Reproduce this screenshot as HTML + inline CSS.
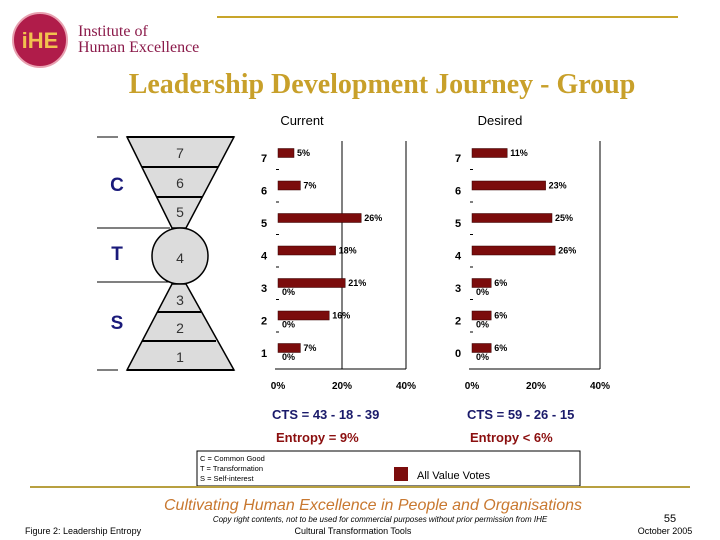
<!DOCTYPE html>
<html><head><meta charset="utf-8"><style>
body{margin:0;background:#fff;}
svg{display:block;font-family:"Liberation Sans",Arial,sans-serif;}
</style></head><body>
<svg width="720" height="540" viewBox="0 0 720 540">
<g>
<circle cx="40" cy="40" r="27" fill="#b01c4a" stroke="#e8a0b0" stroke-width="2"/>
<text x="40" y="48" text-anchor="middle" font-size="22" font-weight="bold" fill="#f2c14e">iHE</text>
<text x="78" y="36" font-family="Liberation Serif,serif" font-size="16" fill="#8b1a4a">Institute of</text>
<text x="78" y="52" font-family="Liberation Serif,serif" font-size="16" fill="#8b1a4a">Human Excellence</text>
</g>
<line x1="217" y1="17" x2="678" y2="17" stroke="#c8a52a" stroke-width="2"/>
<text x="382" y="93" text-anchor="middle" font-family="Liberation Serif,serif" font-size="28" font-weight="bold" fill="#c8a02a">Leadership Development Journey - Group</text>

<g stroke="#000">
<line x1="97" y1="137" x2="118" y2="137" stroke-width="1"/>
<line x1="97" y1="228" x2="170" y2="228" stroke-width="1"/>
<line x1="97" y1="282" x2="172" y2="282" stroke-width="1"/>
<line x1="97" y1="370" x2="118" y2="370" stroke-width="1"/>
<polygon points="127,137 234,137 186,228 172,228" fill="#dcdcdc" stroke-width="1.5"/>
<line x1="142" y1="167" x2="218" y2="167" stroke-width="2"/>
<line x1="157" y1="197" x2="202" y2="197" stroke-width="2"/>
<line x1="127" y1="137" x2="234" y2="137" stroke-width="2"/>
<circle cx="180" cy="256" r="28" fill="#dcdcdc" stroke-width="1.5"/>
<polygon points="172,284 186,284 234,370 127,370" fill="#dcdcdc" stroke-width="1.5"/>
<line x1="157" y1="312" x2="201" y2="312" stroke-width="2"/>
<line x1="142" y1="341" x2="216" y2="341" stroke-width="2"/>
<line x1="127" y1="370" x2="234" y2="370" stroke-width="2"/>
<g stroke="none" fill="#333" font-size="14" text-anchor="middle">
<text x="180" y="158">7</text><text x="180" y="188">6</text><text x="180" y="217">5</text>
<text x="180" y="263">4</text><text x="180" y="305">3</text><text x="180" y="333">2</text><text x="180" y="362">1</text>
</g>
<g stroke="none" fill="#1a1a7a" font-size="19" font-weight="bold" text-anchor="middle">
<text x="117" y="191">C</text><text x="117" y="260">T</text><text x="117" y="329">S</text>
</g>
</g>

<text x="302" y="125" text-anchor="middle" font-size="13">Current</text>
<text x="500" y="125" text-anchor="middle" font-size="13">Desired</text>
<g id="charts"></g>

<text x="272" y="419" font-size="13" font-weight="bold" fill="#1a1a6a">CTS = 43 - 18 - 39</text>
<text x="467" y="419" font-size="13" font-weight="bold" fill="#1a1a6a">CTS = 59 - 26 - 15</text>
<text x="276" y="442" font-size="13" font-weight="bold" fill="#8b0f0f">Entropy = 9%</text>
<text x="470" y="442" font-size="13" font-weight="bold" fill="#8b0f0f">Entropy &lt; 6%</text>

<g>
<rect x="197" y="451" width="383" height="35" fill="#fff" stroke="#000"/>
<text x="200" y="461" font-size="7.5">C = Common Good</text>
<text x="200" y="471" font-size="7.5">T = Transformation</text>
<text x="200" y="481" font-size="7.5">S = Self-interest</text>
<rect x="394" y="467" width="14" height="14" fill="#7b0c0c"/>
<text x="417" y="479" font-size="11">All Value Votes</text>
</g>
<line x1="30" y1="487" x2="690" y2="487" stroke="#b8a040" stroke-width="2"/>
<text x="373" y="510" text-anchor="middle" font-size="16" font-style="italic" fill="#c87830">Cultivating Human Excellence in People and Organisations</text>
<text x="380" y="522" text-anchor="middle" font-size="8" font-style="italic">Copy right contents, not to be used for commercial purposes without prior permission from IHE</text>
<text x="353" y="534" text-anchor="middle" font-size="9">Cultural Transformation Tools</text>
<text x="25" y="534" font-size="9">Figure 2: Leadership Entropy</text>
<text x="670" y="522" text-anchor="middle" font-size="11">55</text>
<text x="665" y="534" text-anchor="middle" font-size="9">October 2005</text>
</svg>
<script>
const currentLevels = ["7","6","5","4","3","2","1"];
const currentValues = [5,7,26,18,21,16,7];
const desiredLevels = ["7","6","5","4","3","2","0"];
const desiredValues = [11,23,25,26,6,6,6];
const zeroRows = [4,5,6];
const xTicks = [0,20,40];
const xTickLabels = ["0%","20%","40%"];

const NS="http://www.w3.org/2000/svg";
const g=document.getElementById('charts');
function mk(tag,attrs,parent,txt){const e=document.createElementNS(NS,tag);for(const k in attrs)e.setAttribute(k,attrs[k]);if(txt!==undefined)e.textContent=txt;parent.appendChild(e);return e;}
function y(i){return 153+i*32.5;}
function drawChart(x0,levels,values,name,gridAt20){
  const sx=v=>x0+v*3.2;
  const cg=mk('g',{},g);
  
  
  mk('line',{x1:x0-3,y1:369,x2:sx(40),y2:369,stroke:'#000'},cg);
  mk('line',{x1:sx(40),y1:141,x2:sx(40),y2:369,stroke:'#000'},cg);
  if(gridAt20) mk('line',{x1:sx(20),y1:141,x2:sx(20),y2:369,stroke:'#000'},cg);
  xTicks.forEach((t,i)=>{const tl=mk('text',{x:sx(t),y:389,'text-anchor':'middle','font-size':'10','font-weight':'bold'},cg,xTickLabels[i]);
    
    });
  levels.forEach((l,i)=>{
    const lab=mk('text',{x:x0-14,y:y(i)+9,'text-anchor':'middle','font-size':'11','font-weight':'bold'},cg,l);
    
    
    if(i>0) mk('line',{x1:x0-2,y1:y(i)-16,x2:x0+1,y2:y(i)-16,stroke:'#000'},cg);
    const b=mk('rect',{x:x0,y:y(i)-4.5,width:values[i]*3.2,height:9,fill:'#7b0c0c',stroke:'#300',"stroke-width":0.5},cg);
    
    
    const vl=mk('text',{x:x0+values[i]*3.2+3,y:y(i)+3,'font-size':'9','font-weight':'bold'},cg,values[i]+'%');
    
    
  });
  zeroRows.forEach(i=>{const z=mk('text',{x:x0+4,y:y(i)+12,'font-size':'9','font-weight':'bold'},cg,'0%');
    
    });
}
drawChart(278,currentLevels,currentValues,'current-chart',true);
drawChart(472,desiredLevels,desiredValues,'desired-chart',false);
</script>
</body></html>
